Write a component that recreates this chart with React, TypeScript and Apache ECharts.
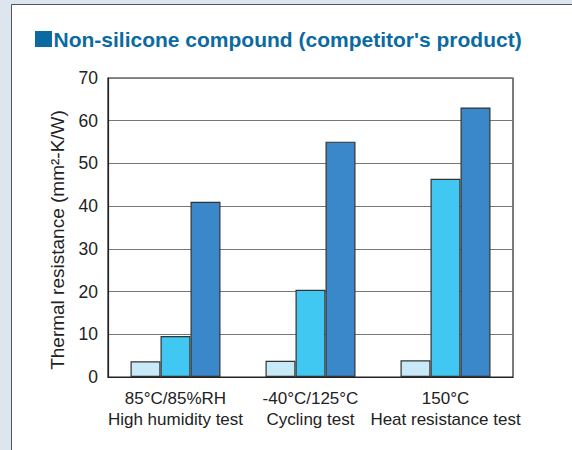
import React, { useEffect, useRef } from "react";
import * as echarts from "echarts";

const categories = ["85°C/85%RH\nHigh humidity test", "-40°C/125°C\nCycling test", "150°C\nHeat resistance test"];
const seriesA = [3.7, 3.8, 3.9];
const seriesB = [9.6, 20.4, 46.4];
const seriesC = [41, 55.1, 63.1];
const yTicks = { min: 0, max: 70, interval: 10 };
const title = "Non-silicone compound (competitor's product)";
const yName = "Thermal resistance (mm²-K/W)";

export default function App() {
  const ref = useRef<HTMLDivElement>(null);
  useEffect(() => {
    const chart = echarts.init(ref.current!, null, { renderer: "svg" });
    const font = "'Liberation Sans', Arial, sans-serif";
    const mk = (name: string, data: number[], color: string) => ({
      name,
      type: "bar",
      data,
      barWidth: 30,
      barGap: "0%",
      itemStyle: { color, borderColor: "#333", borderWidth: 1.2 },
      silent: true,
    });
    chart.setOption({
      animation: false,
      backgroundColor: "#ffffff",
      graphic: [
        { type: "rect", shape: { x: 0, y: 0, width: 572, height: 450 }, style: { fill: "#dde6ef" }, z: -10 },
        { type: "rect", shape: { x: 11.5, y: 4.5, width: 580, height: 460 }, style: { fill: "#ffffff", stroke: "#555", lineWidth: 1 }, z: -9 },
        { type: "rect", shape: { x: 35, y: 31, width: 17, height: 16 }, style: { fill: "#0a6aa1" } },
        { type: "text", x: 53.5, y: 39.5, style: { text: title, fill: "#0a6aa1", font: `bold 21px ${font}`, verticalAlign: "middle" } },
        { type: "text", x: 57, y: 240, rotation: Math.PI / 2, style: { text: yName, fill: "#222", font: `19px ${font}`, align: "center", verticalAlign: "middle" } },
      ],
      grid: { left: 108, right: 59, top: 78, bottom: 73, show: true, borderColor: "#222", borderWidth: 1.2, backgroundColor: "transparent" },
      xAxis: {
        type: "category",
        data: categories,
        axisLine: { lineStyle: { color: "#222", width: 1.2 } },
        axisTick: { show: false },
        axisLabel: { color: "#222", fontSize: 17, fontFamily: font, lineHeight: 21, margin: 11, interval: 0 },
      },
      yAxis: {
        type: "value",
        min: yTicks.min,
        max: yTicks.max,
        interval: yTicks.interval,
        axisLine: { show: true, lineStyle: { color: "#222", width: 1.2 } },
        axisTick: { show: false },
        axisLabel: { color: "#222", fontSize: 17.5, fontFamily: font, margin: 10 },
        splitLine: { lineStyle: { color: "#777", width: 1.2 } },
      },
      series: [
        mk("A", seriesA, "#c8e9f8"),
        mk("B", seriesB, "#40c7f2"),
        mk("C", seriesC, "#3a88c9"),
      ],
    });
    return () => chart.dispose();
  }, []);
  return <div ref={ref} style={{ position: "fixed", left: 0, top: 0, width: 572, height: 450 }} />;
}
